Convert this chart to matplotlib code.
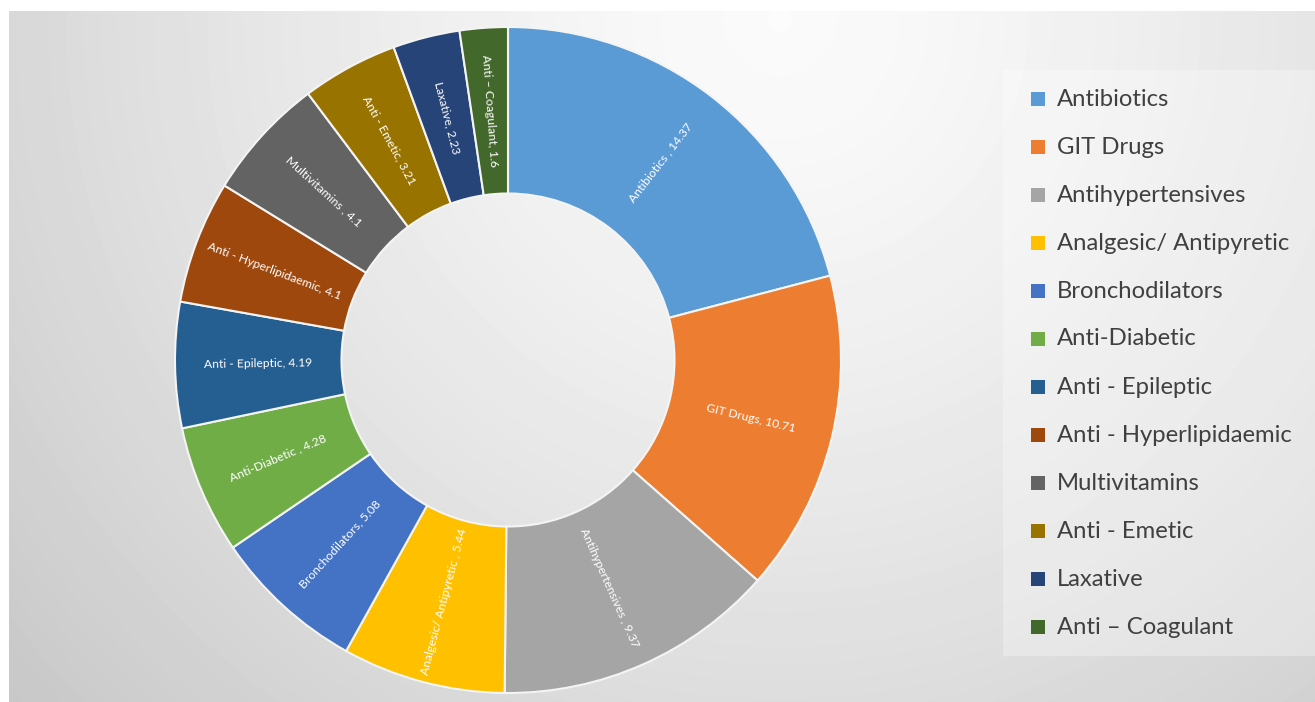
import matplotlib

matplotlib.use("Agg")
import matplotlib.pyplot as plt
import numpy as np
from matplotlib.patches import Rectangle

plt.rcParams["font.family"] = ["Lato", "DejaVu Sans"]

categories = [
    "Antibiotics", "GIT Drugs", "Antihypertensives", "Analgesic/ Antipyretic",
    "Bronchodilators", "Anti-Diabetic", "Anti - Epileptic", "Anti - Hyperlipidaemic",
    "Multivitamins", "Anti - Emetic", "Laxative", "Anti \u2013 Coagulant",
]
values = [14.37, 10.71, 9.37, 5.44, 5.08, 4.28, 4.19, 4.1, 4.1, 3.21, 2.23, 1.6]
slice_labels = [
    "Antibiotics , 14.37", "GIT Drugs, 10.71", "Antihypertensives , 9.37",
    "Analgesic/ Antipyretic , 5.44", "Bronchodilators, 5.08", "Anti-Diabetic , 4.28",
    "Anti - Epileptic, 4.19", "Anti - Hyperlipidaemic, 4.1", "Multivitamins , 4.1",
    "Anti - Emetic, 3.21", "Laxative, 2.23", "Anti \u2013 Coagulant, 1.6",
]
colors = [
    "#5B9BD5", "#ED7D31", "#A5A5A5", "#FFC000", "#4472C4", "#70AD47",
    "#255E91", "#9E480E", "#636363", "#997300", "#264478", "#43682B",
]

W, H = 1315, 702
fig = plt.figure(figsize=(W / 100, H / 100), dpi=100)
fig.patch.set_facecolor("white")

# gradient panel behind everything
bg = fig.add_axes([9 / W, 0, 1 - 9 / W, (H - 11) / H])
bg.set_axis_off()
yy, xx = np.mgrid[11:H, 9:W]
d = np.hypot(xx - 780, yy - 20) / 1060
shade = np.clip(0.985 - 0.21 * d ** 1.3, 0.76, 1.0)
bg.imshow(shade, cmap="gray", vmin=0, vmax=1, aspect="auto",
          extent=(0, 1, 0, 1), interpolation="bilinear")
bg.set_xlim(0, 1)
bg.set_ylim(0, 1)

# legend box
fig.add_artist(Rectangle((1003 / W, (H - 656) / H), (W - 1003) / W, (656 - 70) / H,
                         transform=fig.transFigure, facecolor="white", alpha=0.3,
                         edgecolor="none", zorder=1))

cx, cy, r = 508, 360, 333
ax = fig.add_axes([(cx - r) / W, (H - cy - r) / H, 2 * r / W, 2 * r / H])
ax.set_axis_off()
wedges, _ = ax.pie(values, colors=colors, startangle=90, counterclock=False,
                   radius=1, wedgeprops=dict(width=0.5, edgecolor="#f4f4f4", linewidth=1.5))
ax.set_xlim(-1, 1)
ax.set_ylim(-1, 1)

for w, lab in zip(wedges, slice_labels):
    mid = (w.theta1 + w.theta2) / 2
    rad = np.deg2rad(mid)
    rot = (mid + 90) % 180 - 90
    ax.text(0.75 * np.cos(rad), 0.75 * np.sin(rad), lab, rotation=rot,
            rotation_mode="anchor", ha="center", va="center",
            color="white", fontsize=8.7)

# legend entries
for i, (name, col) in enumerate(zip(categories, colors)):
    y = 99 + i * 48.0
    fig.add_artist(Rectangle((1031 / W, (H - y - 7) / H), 14 / W, 14 / H,
                             transform=fig.transFigure, facecolor=col,
                             edgecolor="none", zorder=3))
    fig.text(1057 / W, (H - y) / H, name, ha="left", va="center",
             fontsize=17.2, color="#404040", zorder=3)

fig.savefig("out.png", dpi=100)
